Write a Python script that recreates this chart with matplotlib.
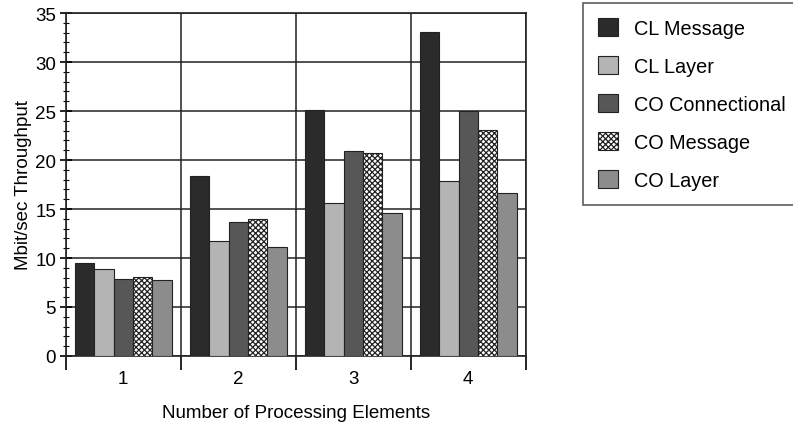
import numpy as np
import matplotlib.pyplot as plt
from matplotlib.ticker import MultipleLocator, FixedLocator

plt.rcParams['font.family'] = ['Liberation Sans', 'DejaVu Sans']
plt.rcParams['hatch.linewidth'] = 0.9
plt.rcParams['hatch.color'] = '#222222'

pes = [1, 2, 3, 4]
cl_message = [9.5, 18.4, 25.1, 33.1]
cl_layer = [8.9, 11.7, 15.6, 17.9]
co_connectional = [7.9, 13.7, 20.9, 25.0]
co_message = [8.1, 14.0, 20.7, 23.1]
co_layer = [7.8, 11.1, 14.6, 16.6]

series = [
    ('CL Message', cl_message, '#2b2b2b', None),
    ('CL Layer', cl_layer, '#b4b4b4', None),
    ('CO Connectional', co_connectional, '#575757', None),
    ('CO Message', co_message, 'white', 'xxxxxx'),
    ('CO Layer', co_layer, '#8c8c8c', None),
]

fig = plt.figure(figsize=(7.93, 4.27), dpi=100)
ax = fig.add_axes([0.083, 0.164, 0.58, 0.803])

x = np.arange(len(pes)) + 1
w = 0.168
for i, (name, vals, col, hatch) in enumerate(series):
    ax.bar(x + (i - 2) * w, vals, w, color=col, edgecolor='#222222',
           linewidth=0.8, hatch=hatch, label=name, zorder=3)

ax.set_xlim(0.5, 4.5)
ax.set_ylim(0, 35)
ax.yaxis.set_major_locator(MultipleLocator(5))
ax.yaxis.set_minor_locator(MultipleLocator(1))
ax.set_xticks(x)
ax.set_xticklabels([str(p) for p in pes])
ax.xaxis.set_minor_locator(FixedLocator([0.5, 1.5, 2.5, 3.5, 4.5]))
ax.tick_params(axis='x', which='major', length=0, labelsize=13.5, pad=10)
ax.tick_params(axis='x', which='minor', length=10, width=1.2, direction='out')
ax.tick_params(axis='y', which='major', length=8, width=1.2, direction='inout',
               labelsize=13.5, pad=3)
ax.tick_params(axis='y', which='minor', length=5, width=0.8, direction='inout')
ax.grid(axis='y', which='major', color='#222222', linewidth=1.1, zorder=0)
ax.grid(axis='x', which='minor', color='#222222', linewidth=1.1, zorder=0)
for s in ax.spines.values():
    s.set_linewidth(1.2)
    s.set_color('#222222')

ax.set_ylabel('Mbit/sec Throughput', fontsize=13.5, labelpad=2)
ax.set_xlabel('Number of Processing Elements', fontsize=13.5, labelpad=12)

leg = fig.legend(loc='upper left', bbox_to_anchor=(0.735, 0.99), fontsize=14.3,
                 frameon=True, fancybox=False, edgecolor='#333333',
                 handlelength=1.0, handleheight=1.0, labelspacing=0.92,
                 borderpad=0.75, handletextpad=0.85, borderaxespad=0)
leg.get_frame().set_linewidth(1.2)

fig.savefig('out.png', dpi=100)
